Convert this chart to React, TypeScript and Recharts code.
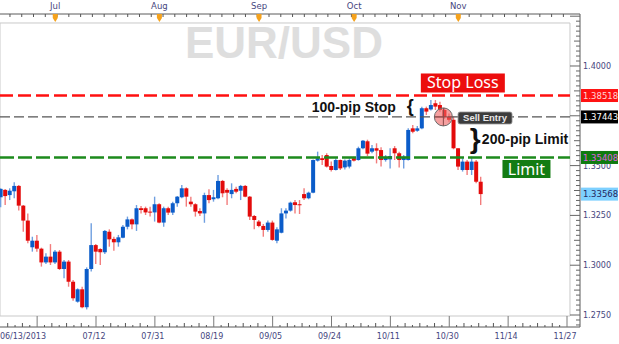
import React from 'react';
import { ComposedChart, Bar, XAxis, YAxis, ReferenceLine, ReferenceDot, ReferenceArea } from 'recharts';

// ---- data (EUR/USD daily candles, index 0 = 06/13/2013) ----
const opens = [
  1.3341, 1.3378, 1.3352, 1.3371, 1.3398, 1.3299, 1.3224, 1.3090, 1.3123, 1.3083,
  1.3014, 1.3043, 1.3014, 1.3068, 1.2981, 1.3018, 1.2917, 1.2817, 1.2879, 1.2789,
  1.2981, 1.3101, 1.3081, 1.3065, 1.3168, 1.3132, 1.3115, 1.3138, 1.3193, 1.3230,
  1.3205, 1.3286, 1.3286, 1.3269, 1.3265, 1.3306, 1.3214, 1.3286, 1.3264, 1.3311,
  1.3341, 1.3386, 1.3319, 1.3306, 1.3272, 1.3260, 1.3352, 1.3331, 1.3336, 1.3423,
  1.3378, 1.3357, 1.3383, 1.3374, 1.3398, 1.3344, 1.3247, 1.3219, 1.3197, 1.3177,
  1.3214, 1.3123, 1.3163, 1.3260, 1.3274, 1.3316, 1.3306, 1.3357, 1.3336, 1.3364,
  1.3525, 1.3537, 1.3553, 1.3498, 1.3478, 1.3528, 1.3491, 1.3495, 1.3537, 1.3528,
  1.3587, 1.3622, 1.3570, 1.3587, 1.3578, 1.3528, 1.3531, 1.3587, 1.3562, 1.3528,
  1.3528, 1.3687, 1.3675, 1.3687, 1.3788, 1.3782, 1.3813, 1.3804, 1.3779, 1.3744,
  1.3730, 1.3587, 1.3478, 1.3520, 1.3478, 1.3520, 1.3419,
];
const highs = [
  1.3386, 1.3382, 1.3386, 1.3416, 1.3403, 1.3302, 1.3260, 1.3143, 1.3152, 1.3088,
  1.3060, 1.3106, 1.3076, 1.3076, 1.3026, 1.3026, 1.2926, 1.2884, 1.2892, 1.2989,
  1.3210, 1.3106, 1.3085, 1.3177, 1.3180, 1.3143, 1.3152, 1.3202, 1.3244, 1.3235,
  1.3302, 1.3297, 1.3294, 1.3294, 1.3344, 1.3311, 1.3294, 1.3294, 1.3319, 1.3347,
  1.3403, 1.3391, 1.3344, 1.3311, 1.3286, 1.3364, 1.3381, 1.3378, 1.3453, 1.3428,
  1.3386, 1.3411, 1.3394, 1.3403, 1.3403, 1.3347, 1.3252, 1.3227, 1.3207, 1.3224,
  1.3224, 1.3190, 1.3286, 1.3286, 1.3319, 1.3327, 1.3327, 1.3386, 1.3369, 1.3531,
  1.3570, 1.3553, 1.3562, 1.3520, 1.3537, 1.3531, 1.3531, 1.3537, 1.3545, 1.3595,
  1.3628, 1.3630, 1.3603, 1.3612, 1.3592, 1.3553, 1.3587, 1.3598, 1.3570, 1.3553,
  1.3687, 1.3704, 1.3699, 1.3796, 1.3796, 1.3829, 1.3829, 1.3821, 1.3790, 1.3762,
  1.3746, 1.3587, 1.3537, 1.3528, 1.3545, 1.3528, 1.3444,
];
const lows = [
  1.3291, 1.3302, 1.3327, 1.3336, 1.3274, 1.3168, 1.3110, 1.3068, 1.3068, 1.2993,
  1.3006, 1.3001, 1.3006, 1.2976, 1.2934, 1.2892, 1.2822, 1.2812, 1.2784, 1.2778,
  1.2968, 1.3006, 1.3001, 1.3056, 1.3093, 1.3073, 1.3093, 1.3135, 1.3180, 1.3180,
  1.3172, 1.3260, 1.3252, 1.3244, 1.3219, 1.3210, 1.3193, 1.3252, 1.3252, 1.3294,
  1.3336, 1.3294, 1.3294, 1.3244, 1.3247, 1.3213, 1.3311, 1.3319, 1.3331, 1.3341,
  1.3302, 1.3336, 1.3361, 1.3327, 1.3341, 1.3227, 1.3180, 1.3190, 1.3143, 1.3168,
  1.3123, 1.3110, 1.3160, 1.3235, 1.3269, 1.3260, 1.3257, 1.3327, 1.3331, 1.3361,
  1.3520, 1.3503, 1.3491, 1.3470, 1.3475, 1.3478, 1.3481, 1.3486, 1.3520, 1.3525,
  1.3582, 1.3548, 1.3562, 1.3511, 1.3495, 1.3520, 1.3486, 1.3528, 1.3491, 1.3486,
  1.3525, 1.3662, 1.3670, 1.3682, 1.3754, 1.3776, 1.3779, 1.3770, 1.3735, 1.3720,
  1.3582, 1.3478, 1.3470, 1.3453, 1.3453, 1.3411, 1.3302,
];
const closes = [
  1.3383, 1.3347, 1.3374, 1.3398, 1.3299, 1.3224, 1.3123, 1.3123, 1.3083, 1.3014,
  1.3043, 1.3014, 1.3068, 1.2981, 1.3018, 1.2917, 1.2834, 1.2879, 1.2789, 1.2981,
  1.3101, 1.3068, 1.3065, 1.3172, 1.3130, 1.3115, 1.3140, 1.3193, 1.3230, 1.3205,
  1.3286, 1.3277, 1.3265, 1.3264, 1.3306, 1.3214, 1.3286, 1.3264, 1.3311, 1.3344,
  1.3386, 1.3344, 1.3306, 1.3269, 1.3260, 1.3352, 1.3327, 1.3341, 1.3423, 1.3361,
  1.3364, 1.3378, 1.3369, 1.3398, 1.3344, 1.3244, 1.3227, 1.3197, 1.3177, 1.3214,
  1.3127, 1.3180, 1.3260, 1.3274, 1.3314, 1.3302, 1.3301, 1.3336, 1.3364, 1.3528,
  1.3537, 1.3528, 1.3495, 1.3478, 1.3528, 1.3486, 1.3525, 1.3528, 1.3525, 1.3587,
  1.3625, 1.3560, 1.3587, 1.3575, 1.3528, 1.3545, 1.3548, 1.3562, 1.3528, 1.3545,
  1.3679, 1.3670, 1.3687, 1.3788, 1.3771, 1.3804, 1.3796, 1.3779, 1.3744, 1.3730,
  1.3587, 1.3495, 1.3520, 1.3478, 1.3520, 1.3419, 1.3357,
];

// bottom axis labels (trading-day index -> label)
const dateTickIndex = [0, 21, 34, 47, 60, 73, 86, 99, 112, 125];
const dateTickLabels = ['06/13/2013', '07/12', '07/31', '08/19', '09/05', '09/24', '10/11', '10/30', '11/14', '11/27'];
// top axis month markers
const monthTickIndex = [12, 35, 57, 78, 101];
const monthTickLabels = ['Jul', 'Aug', 'Sep', 'Oct', 'Nov'];
// right axis price labels
const priceTicks = [1.275, 1.3, 1.325, 1.35, 1.375, 1.4, 1.425];
const priceTickShown = [true, true, true, true, false, true, false];
// trade levels
const stopLevel = 1.38518;
const entryLevel = 1.37443;
const limitLevel = 1.35408;
const lastPrice = 1.33568;

const priceTags = [
  { value: stopLevel, label: '1.38518', bg: '#ff1212', fg: '#ffd6d6' },
  { value: entryLevel, label: '1.37443', bg: '#000000', fg: '#ffffff' },
  { value: limitLevel, label: '1.35408', bg: '#0f7a0f', fg: '#e060e0' },
  { value: lastPrice, label: '1.33568', bg: '#7dd0ff', fg: '#26265e' },
];

// ---- layout constants ----
const X_MIN = -0.2;
const X_MAX = 127.87;
const X_PANEL = 125.66;
const Y_MIN = 1.26898;
const Y_MAX = 1.4261;
const Y_PANEL_LO = 1.2745;
const Y_PANEL_HI = 1.42159;

const AXIS_FONT = 'DejaVu Sans, Verdana, sans-serif';
const AXIS_TEXT = '#46467e';
const FRAME = '#5a5a5a';

const rows = opens.map((o, i) => ({
  i,
  o,
  h: highs[i],
  l: lows[i],
  c: closes[i],
  range: [lows[i], highs[i]],
}));

// bottom ticks: majors every 13 bars, 8 subdivisions
type TickInfo = { kind: 'major' | 'mid' | 'minor' | 'label'; label?: string; anchor?: string };
const bottomTickMap = new Map<string, TickInfo>();
const bottomTicks: number[] = [];
for (let k = -4; k <= 72; k++) {
  const v = 8 + (k * 13) / 8;
  if (v < X_MIN + 0.3 || v > X_PANEL) continue;
  const kind = k % 8 === 0 ? 'major' : k % 2 === 0 ? 'mid' : 'minor';
  bottomTicks.push(v);
  bottomTickMap.set(v.toFixed(4), { kind });
}
dateTickIndex.forEach((v, j) => {
  const key = v.toFixed(4);
  const prev = bottomTickMap.get(key);
  if (!prev) bottomTicks.push(v);
  bottomTickMap.set(key, { kind: prev ? prev.kind : 'label', label: dateTickLabels[j], anchor: j === 0 ? 'start' : 'middle' });
});

const topTicks: number[] = [];
const topTickMap = new Map<string, string | null>();
for (let k = 0; k <= 47; k++) {
  const v = 2 + k * 2.6;
  if (v > X_PANEL) break;
  topTicks.push(v);
  topTickMap.set(v.toFixed(4), null);
}
monthTickIndex.forEach((v, j) => {
  topTicks.push(v);
  topTickMap.set(v.toFixed(4), monthTickLabels[j]);
});

const yTicks: number[] = [];
const yTickMap = new Map<string, { kind: string; label?: string; tag?: (typeof priceTags)[number] }>();
for (let k = 0; k <= 62; k++) {
  const v = 1.27 + k * 0.0025;
  if (v < Y_MIN || v > Y_MAX) continue;
  yTicks.push(v);
  const isMajor = k % 10 === 2;
  yTickMap.set(v.toFixed(5), { kind: isMajor ? 'major' : k % 5 === 2 ? 'mid' : 'minor' });
}
priceTicks.forEach((v, j) => {
  const key = v.toFixed(5);
  yTickMap.set(key, { kind: 'major', label: priceTickShown[j] ? v.toFixed(4) : undefined });
});
priceTags.forEach((t) => {
  yTicks.push(t.value);
  yTickMap.set(t.value.toFixed(5), { kind: 'tag', tag: t });
});

const Candle = (props: any) => {
  const { x, y, width, height, payload } = props;
  if (!payload || x == null || y == null) return null;
  const { o, h, l, c } = payload;
  const top = Math.min(y, y + height);
  const hh = Math.abs(height);
  const k = hh / (h - l);
  const py = (v: number) => top + (h - v) * k;
  const up = c >= o;
  const cx = x + width / 2;
  const bt = py(Math.max(o, c));
  const bb = py(Math.min(o, c));
  const bw = 4;
  return (
    <g>
      <line x1={cx} x2={cx} y1={top} y2={top + hh} stroke={up ? '#6f9fe0' : '#f27c7c'} strokeWidth={1.4} />
      <rect x={cx - bw / 2} y={bt} width={bw} height={Math.max(bb - bt, 1)} fill={up ? '#0b5cc9' : '#e30b0b'} />
    </g>
  );
};

const BottomTick = (props: any) => {
  const { x, y, payload } = props;
  const info = bottomTickMap.get(Number(payload.value).toFixed(4));
  if (!info) return null;
  const len = info.kind === 'major' ? 11 : info.kind === 'mid' ? 4 : info.kind === 'minor' ? 2 : 0;
  return (
    <g>
      {len > 0 && <line x1={x} x2={x} y1={y} y2={y - len} stroke={info.kind === 'major' ? '#7a7a7a' : '#555'} strokeWidth={1} />}
      {info.label && (
        <text x={info.anchor === 'start' ? x - 1 : x - 2} y={y + 12} textAnchor={info.anchor} fontSize={8} fontFamily={AXIS_FONT} fill={AXIS_TEXT}>
          {info.label}
        </text>
      )}
    </g>
  );
};

const TopTick = (props: any) => {
  const { x, y, payload } = props;
  const key = Number(payload.value).toFixed(4);
  const label = topTickMap.get(key);
  if (label) {
    return (
      <g>
        <text x={x} y={y - 5} textAnchor="middle" fontSize={8.5} fontFamily={AXIS_FONT} fill={AXIS_TEXT}>
          {label}
        </text>
        <polygon points={`${x - 2.5},${y} ${x + 2.5},${y} ${x + 2.5},${y + 4} ${x},${y + 8} ${x - 2.5},${y + 4}`} fill="#f5a21c" />
      </g>
    );
  }
  return <line x1={x} x2={x} y1={y} y2={y + 3} stroke="#555" strokeWidth={1} />;
};

const RightTick = (props: any) => {
  const { x, y, payload } = props;
  const info = yTickMap.get(Number(payload.value).toFixed(5));
  if (!info) return null;
  if (info.kind === 'tag' && info.tag) {
    const t = info.tag;
    return (
      <g>
        <rect x={x + 1} y={y - 6.5} width={37} height={13} fill={t.bg} />
        <text x={x + 3} y={y + 3.3} fontSize={8.5} fontFamily={AXIS_FONT} fill={t.fg}>
          {t.label}
        </text>
      </g>
    );
  }
  const len = info.kind === 'major' ? 10 : info.kind === 'mid' ? 6 : 4;
  return (
    <g>
      <line x1={x} x2={x - len} y1={y} y2={y} stroke="#666" strokeWidth={1} />
      {info.label && (
        <text x={x + 3} y={y + 3} fontSize={8} fontFamily={AXIS_FONT} fill={AXIS_TEXT}>
          {info.label}
        </text>
      )}
    </g>
  );
};

// annotations (anchored in data coordinates)
const Watermark = (p: any) => (
  <text x={p.cx} y={p.cy} textAnchor="middle" fontSize={44} fontWeight="bold" fontFamily="Liberation Sans, Arial, sans-serif" fill="#dedede">
    EUR/USD
  </text>
);
const StopLossBox = (p: any) => (
  <g>
    <rect x={p.cx - 42} y={p.cy - 9.5} width={84} height={19} fill="#ec0d0d" />
    <text x={p.cx} y={p.cy + 5.5} textAnchor="middle" fontSize={16} fontFamily="Noto Sans, sans-serif" fill="#ffffff">
      Stop Loss
    </text>
  </g>
);
const LimitBox = (p: any) => (
  <g>
    <rect x={p.cx - 24} y={p.cy - 9} width={48} height={18} fill="#137c13" />
    <text x={p.cx} y={p.cy + 5.5} textAnchor="middle" fontSize={16} fontFamily="Noto Sans, sans-serif" fill="#ffffff">
      Limit
    </text>
  </g>
);
const StopText = (p: any) => (
  <g>
    <text x={p.cx} y={p.cy + 5} textAnchor="end" fontSize={14} fontWeight="bold" fontFamily="Liberation Sans, Arial, sans-serif" fill="#111">
      100-pip Stop
    </text>
    <text x={p.cx + 11} y={p.cy + 5.5} fontSize={18} fontWeight="bold" fontFamily="Liberation Sans, Arial, sans-serif" fill="#111">
      {'{'}
    </text>
  </g>
);
const LimitText = (p: any) => (
  <g>
    <text x={p.cx - 12} y={p.cy + 9} fontSize={28} fontFamily="Liberation Sans, Arial, sans-serif" fontWeight="bold" fill="#111">
      {'}'}
    </text>
    <text x={p.cx} y={p.cy + 5} fontSize={14} fontWeight="bold" fontFamily="Liberation Sans, Arial, sans-serif" fill="#111">
      200-pip Limit
    </text>
  </g>
);
const EntryCircle = (p: any) => (
  <g>
    <circle cx={p.cx} cy={p.cy} r={9} fill="rgba(238,96,96,0.6)" stroke="#6a6a6a" strokeWidth={1} />
    <line x1={p.cx - 9} x2={p.cx + 9} y1={p.cy} y2={p.cy} stroke="#8a4a4a" strokeWidth={1} />
    <line x1={p.cx} x2={p.cx} y1={p.cy - 9} y2={p.cy + 9} stroke="#8a4a4a" strokeWidth={1} />
  </g>
);
const SellEntryBox = (p: any) => (
  <g>
    <rect x={p.cx - 27} y={p.cy - 6} width={54} height={12} rx={2} fill="#3c3c3c" stroke="#9a9a9a" strokeWidth={0.8} />
    <text x={p.cx} y={p.cy + 3.5} textAnchor="middle" fontSize={9.5} fontWeight="bold" fontFamily="Liberation Sans, Arial, sans-serif" fill="#e8e8e8">
      Sell Entry
    </text>
  </g>
);

export default function App() {
  return (
    <div style={{ position: 'absolute', left: 0, top: 0, width: 619, height: 344, background: '#fff' }}>
      <ComposedChart width={619} height={344} data={rows} margin={{ top: 0, right: 0, bottom: 0, left: 0 }}>
        <XAxis
          xAxisId="b"
          dataKey="i"
          type="number"
          orientation="bottom"
          domain={[X_MIN, X_MAX]}
          allowDataOverflow
          ticks={bottomTicks}
          interval={0}
          height={17}
          tickSize={0}
          tickMargin={0}
          tickLine={false}
          axisLine={{ stroke: FRAME }}
          tick={<BottomTick />}
        />
        <XAxis
          xAxisId="t"
          dataKey="i"
          type="number"
          orientation="top"
          domain={[X_MIN, X_MAX]}
          allowDataOverflow
          ticks={topTicks}
          interval={0}
          height={14}
          tickSize={0}
          tickMargin={0}
          tickLine={false}
          axisLine={{ stroke: FRAME }}
          tick={<TopTick />}
        />
        <YAxis
          yAxisId="p"
          orientation="right"
          type="number"
          domain={[Y_MIN, Y_MAX]}
          allowDataOverflow
          ticks={yTicks}
          interval={0}
          width={39}
          tickSize={0}
          tickMargin={0}
          tickLine={false}
          axisLine={{ stroke: FRAME }}
          tick={<RightTick />}
        />
        <ReferenceArea xAxisId="b" yAxisId="p" x1={X_MIN} x2={X_PANEL} y1={Y_PANEL_LO} y2={Y_PANEL_HI} fill="none" stroke="#c9c9c9" strokeWidth={1} ifOverflow="visible" />
        <ReferenceDot xAxisId="b" yAxisId="p" x={62.5} y={1.40402} r={0} shape={<Watermark />} ifOverflow="visible" />
        <ReferenceLine xAxisId="b" yAxisId="p" segment={[{ x: X_MIN, y: limitLevel }, { x: X_PANEL, y: limitLevel }]} stroke="#1d8a1d" strokeWidth={2.4} strokeDasharray="14 4" ifOverflow="visible" />
        <ReferenceLine xAxisId="b" yAxisId="p" segment={[{ x: X_MIN, y: entryLevel }, { x: X_PANEL, y: entryLevel }]} stroke="#555555" strokeWidth={1.3} strokeDasharray="10 4" ifOverflow="visible" />
        <ReferenceLine xAxisId="b" yAxisId="p" segment={[{ x: X_MIN, y: stopLevel }, { x: X_PANEL, y: stopLevel }]} stroke="#ff1010" strokeWidth={2.4} strokeDasharray="13 5" ifOverflow="visible" />
        <Bar xAxisId="b" yAxisId="p" dataKey="range" barSize={4} shape={<Candle />} isAnimationActive={false} />
        <ReferenceDot xAxisId="b" yAxisId="p" x={102.0} y={1.39147} r={0} shape={<StopLossBox />} ifOverflow="visible" />
        <ReferenceDot xAxisId="b" yAxisId="p" x={87.2} y={1.37942} r={0} shape={<StopText />} ifOverflow="visible" />
        <ReferenceDot xAxisId="b" yAxisId="p" x={97.7} y={entryLevel} r={0} shape={<EntryCircle />} ifOverflow="visible" />
        <ReferenceDot xAxisId="b" yAxisId="p" x={106.9} y={1.3739} r={0} shape={<SellEntryBox />} ifOverflow="visible" />
        <ReferenceDot xAxisId="b" yAxisId="p" x={106.2} y={1.36335} r={0} shape={<LimitText />} ifOverflow="visible" />
        <ReferenceDot xAxisId="b" yAxisId="p" x={116.05} y={1.34829} r={0} shape={<LimitBox />} ifOverflow="visible" />
      </ComposedChart>
    </div>
  );
}
